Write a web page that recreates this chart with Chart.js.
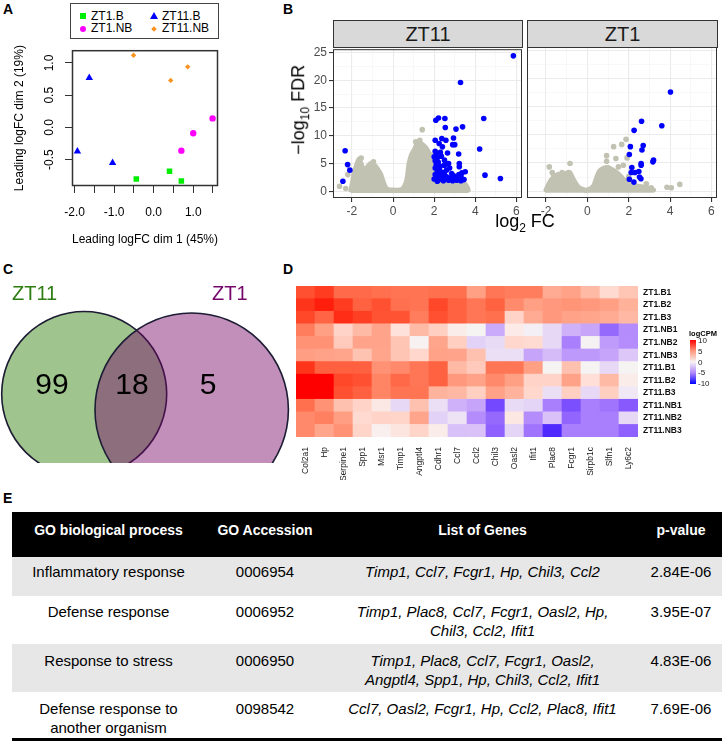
<!DOCTYPE html>
<html>
<head>
<meta charset="utf-8">
<script src="https://cdn.jsdelivr.net/npm/chart.js@4.4.1/dist/chart.umd.min.js"></script>
<style>
body{margin:0;width:726px;height:745px;position:relative;background:#fff;overflow:hidden;font-family:'Liberation Sans',Arial,sans-serif;color:#000}
canvas{position:absolute}
.abs{position:absolute;white-space:nowrap}
.plabel{position:absolute;font-weight:bold;font-size:14px}
.strip{position:absolute;top:20px;height:26px;background:#D9D9D9;border:1px solid #333;font-size:20px;line-height:26px;text-align:center;color:#1a1a1a}
#legA{position:absolute;left:70px;top:3px;width:147px;height:34px;border:1.5px solid #444;font-size:12px}
#legA .it{position:absolute;line-height:12px}
.mk{position:absolute}
#goTable{position:absolute;left:12px;top:512px;width:710px;border-collapse:collapse;table-layout:fixed;font-size:15px}
#goTable th{background:#000;color:#fff;font-weight:bold;font-size:14px;height:45px;vertical-align:top;padding:10px 0 0 0;box-sizing:border-box}
#goTable td{vertical-align:top;text-align:center;padding:6px 0 0 0;line-height:18.5px;white-space:pre-line;box-sizing:border-box}
#goTable tr.g td{background:#E7E7E7}
#goTable td.gn{font-style:italic}
#goTable tr:last-child td{border-bottom:3px solid #000}
</style>
</head>
<body>
<div class="plabel" style="left:3px;top:1px">A</div>
<div class="plabel" style="left:283px;top:1px">B</div>
<div class="plabel" style="left:3px;top:261px">C</div>
<div class="plabel" style="left:283px;top:261px">D</div>
<div class="plabel" style="left:3px;top:490px">E</div>

<!-- A -->
<div id="legA"></div>
<canvas id="mds" width="235" height="210" style="left:0;top:40px"></canvas>

<!-- B -->
<div class="strip" style="left:333px;width:188px">ZT11</div>
<div class="strip" style="left:527px;width:189px">ZT1</div>
<canvas id="volZT11" width="222" height="185" style="left:305px;top:40px"></canvas>
<canvas id="volZT1" width="200" height="185" style="left:522px;top:40px"></canvas>
<div class="abs" style="left:240px;top:98px;width:120px;text-align:center;font-size:18px;transform:rotate(-90deg)">−log<sub style="font-size:12px">10</sub> FDR</div>
<div class="abs" style="left:465px;top:211px;width:120px;text-align:center;font-size:18px">log<sub style="font-size:12px">2</sub> FC</div>

<!-- C -->
<canvas id="venn" width="292" height="173" style="left:0;top:290px"></canvas>
<div id="vennText"></div>

<!-- D -->
<canvas id="heat" width="398" height="204" style="left:290px;top:276px"></canvas>
<div id="heatLeg"></div>

<!-- E -->
<table id="goTable"></table>

<script>
// ---- panel A: MDS plot (leading logFC dims) ----
const mdsGroups = ['ZT1.B', 'ZT11.B', 'ZT1.NB', 'ZT11.NB'];
const mdsZT1B = [[-0.44, -0.80], [0.40, -0.68], [0.70, -0.83]];
const mdsZT11B = [[-1.63, 0.77], [-1.93, -0.37], [-1.04, -0.55]];
const mdsZT1NB = [[1.49, 0.14], [1.00, -0.09], [0.70, -0.36]];
const mdsZT11NB = [[-0.51, 1.12], [0.86, 0.94], [0.43, 0.73]];

// ---- panel B: volcano plots ----
// grey cloud outline (non significant genes)
const zt11Cloud = [[-2.05, 0.2], [-1.98, 1.4], [-1.9, 3.2], [-1.78, 4.6], [-1.66, 5.8], [-1.52, 4.6], [-1.38, 3.6], [-1.22, 4.5],
    [-1.05, 5.1], [-0.9, 4.7], [-0.75, 4.0], [-0.6, 3.0], [-0.45, 1.4], [-0.3, 0.4], [0.0, 0.2], [0.4, 0.3], [0.55, 0.8],
    [0.68, 2.2], [0.78, 5.0], [0.9, 6.6], [1.05, 7.6], [1.2, 8.7], [1.35, 8.6], [1.5, 8.2], [1.62, 7.7], [1.76, 6.8],
    [1.92, 6.3], [2.05, 2.8], [2.3, 1.6], [3.0, 1.5], [3.5, 1.3], [3.62, 0.6], [3.65, 0.2]];
const zt11Grey = [[-2.6, 0.9], [-2.3, 0.5], [-2.2, 3.0], [-1.55, 6.0], [1.42, 11.1], [1.3, 9.2], [1.1, 8.9], [-0.95, 5.3]];
const zt11Sig = [[5.85, 24.4], [3.28, 19.6], [4.41, 13.1], [3.38, 11.6], [3.06, 11.2], [2.54, 11.5], [2.52, 13.1],
    [2.21, 13.2], [2.08, 12.8], [2.05, 9.2], [2.37, 9.5], [2.57, 9.2], [2.94, 9.6], [2.9, 8.4], [3.0, 8.4], [2.24, 8.6],
    [2.4, 8.0], [4.21, 7.6], [-2.33, 7.3], [-2.21, 4.8], [-2.1, 3.8], [-2.44, 1.8], [4.47, 2.9], [5.22, 2.3],
    [3.19, 6.7], [2.65, 6.9], [3.22, 5.0], [3.22, 4.4], [3.51, 3.5], [3.3, 2.7],
    [2.05, 7.2], [2.1, 6.6], [2.15, 6.0], [2.05, 5.5], [2.2, 5.2], [2.1, 4.8], [2.3, 4.5], [2.05, 4.2], [2.25, 3.9],
    [2.15, 3.5], [2.4, 3.4], [2.05, 3.0], [2.3, 2.9], [2.5, 3.0], [2.1, 2.5], [2.35, 2.3], [2.6, 2.6], [2.2, 2.0],
    [2.45, 1.9], [2.7, 2.0], [2.9, 1.9], [3.1, 2.0], [3.3, 1.9], [3.45, 2.1], [2.0, 2.2], [2.15, 1.8], [2.6, 3.8],
    [2.5, 5.6], [2.35, 6.3], [2.75, 4.2], [2.85, 3.2], [3.05, 2.5], [3.2, 3.0], [2.7, 5.0], [2.0, 6.2], [2.3, 7.0],
    [2.5, 4.7], [3.35, 3.3], [2.8, 2.4], [2.95, 2.8]];
const zt1Cloud = [[-2.0, 0.2], [-1.9, 1.0], [-1.75, 2.0], [-1.55, 2.6], [-1.4, 3.0], [-1.2, 2.6], [-1.0, 3.2], [-0.85, 3.3],
    [-0.7, 2.2], [-0.5, 1.0], [-0.3, 0.4], [0.0, 0.2], [0.3, 0.9], [0.45, 2.4], [0.6, 3.6], [0.8, 4.1], [1.0, 4.2],
    [1.2, 3.8], [1.45, 3.2], [1.7, 2.3], [1.9, 1.6], [2.2, 1.0], [2.6, 0.8], [3.0, 0.5], [3.2, 0.2]];
const zt1Grey = [[-1.84, 4.3], [-1.7, 3.3], [-1.63, 2.8], [-0.84, 4.9], [-1.22, 3.3], [0.93, 6.3], [0.93, 5.3], [1.38, 5.8],
    [1.27, 7.9], [1.66, 8.3], [1.87, 9.2], [1.92, 5.9], [1.74, 4.6], [2.85, 1.3], [3.09, 0.6], [3.85, 0.7], [4.06, 0.6],
    [4.47, 1.2], [2.0, 2.6], [1.5, 4.3]];
const zt1Sig = [[4.02, 17.6], [2.62, 12.4], [3.6, 11.6], [2.26, 10.8], [2.08, 7.9], [2.7, 8.1], [2.64, 7.3], [2.03, 6.5],
    [3.2, 5.5], [3.17, 5.2], [2.6, 4.9], [2.6, 4.6], [2.15, 4.2], [2.12, 3.3], [2.3, 3.3], [2.49, 3.5], [2.52, 2.5],
    [2.59, 2.2], [2.25, 1.6], [2.03, 2.1]];

// ---- panel C: Venn counts ----
const vennSets = ['ZT11', 'ZT1'];
const vennCounts = [99, 18, 5];   // ZT11 only, both, ZT1 only

// ---- panel D: heatmap (logCPM) ----
const hmGenes = ['Col2a1', 'Hp', 'Serpine1', 'Spp1', 'Msr1', 'Timp1', 'Angptl4', 'Cdhr1', 'Ccl7', 'Ccl2', 'Chil3',
    'Oasl2', 'Ifit1', 'Plac8', 'Fcgr1', 'Sirpb1c', 'Slfn1', 'Ly6c2'];
const hmSamples = ['ZT1.B1', 'ZT1.B2', 'ZT1.B3', 'ZT1.NB1', 'ZT1.NB2', 'ZT1.NB3',
    'ZT11.B1', 'ZT11.B2', 'ZT11.B3', 'ZT11.NB1', 'ZT11.NB2', 'ZT11.NB3'];
const hmLogCPM = [
    [8.3, 9.0, 7.2, 7.2, 7.0, 6.8, 6.8, 7.0, 7.0, 4.6, 6.7, 6.4, 6.4, 4.0, 4.5, 3.2, 1.4, 2.5],
    [9.2, 9.7, 9.0, 7.6, 8.3, 7.0, 6.8, 8.6, 7.6, 6.7, 7.6, 5.7, 4.6, 5.0, 5.2, 5.0, 4.6, 3.7],
    [8.6, 7.5, 9.4, 8.9, 8.2, 8.2, 6.4, 8.3, 7.6, 6.7, 7.0, 1.8, 4.0, 5.0, 4.5, 4.3, 4.0, 3.3],
    [6.4, 4.6, 1.8, 3.2, 4.4, 1.0, 3.2, 2.0, 0.4, 0.0, -3.3, 0.5, -0.2, -1.2, -3.0, -3.5, -6.3, -4.7],
    [5.3, 5.3, 2.3, 4.4, 4.4, 2.6, 0.1, 4.3, 2.0, -1.5, -1.1, 1.6, 1.4, -1.2, -5.3, -0.1, -4.0, -4.7],
    [4.7, 4.5, 4.3, 2.7, 4.3, 2.6, 1.6, 4.5, 4.4, 2.8, -0.9, -0.9, -3.6, -2.5, -4.1, -4.1, -3.6, -2.0],
    [9.2, 7.7, 7.7, 7.7, 5.3, 5.8, 6.7, 7.6, 3.2, 2.3, 6.7, 6.7, 4.6, 0.0, 2.8, 0.0, -1.2, 0.0],
    [10, 10, 8.6, 8.3, 6.0, 7.3, 6.7, 7.6, 5.0, 4.5, 5.8, 4.6, 1.8, 1.8, 4.5, 1.1, 3.2, 0.4],
    [10, 10, 8.3, 7.7, 6.0, 6.8, 6.8, 3.6, 3.3, 2.0, 4.5, 3.6, 1.6, -0.9, 2.0, -1.2, 2.0, -0.5],
    [7.0, 5.3, 2.8, 1.8, 0.6, -1.2, 2.8, -0.9, -3.0, -3.6, -7.8, -1.1, -1.4, -5.3, -7.5, -5.3, -5.8, -7.0],
    [5.8, 6.2, 4.7, 1.4, 1.8, 1.7, 4.3, -1.5, -0.7, -4.7, -6.3, 0.7, -4.7, -2.2, -6.5, -5.3, -5.3, -1.2],
    [5.8, 4.3, 5.3, 1.7, 0.2, 0.8, 1.7, 0.4, -2.3, -2.2, -6.7, -1.4, -5.8, -9.0, -5.3, -5.3, -5.3, -6.7]
];
const hmLegendTicks = [10, 5, 0, -5, -10];

// ---- panel E: GO enrichment table ----
const goHeader = ['GO biological process', 'GO Accession', 'List of Genes', 'p-value'];
const goProcess = ['Inflammatory response', 'Defense response', 'Response to stress', 'Defense response to\nanother organism'];
const goAccession = ['0006954', '0006952', '0006950', '0098542'];
const goGenes = ['Timp1, Ccl7, Fcgr1, Hp, Chil3, Ccl2',
    'Timp1, Plac8, Ccl7, Fcgr1, Oasl2, Hp,\nChil3, Ccl2, Ifit1',
    'Timp1, Plac8, Ccl7, Fcgr1, Oasl2,\nAngptl4, Spp1, Hp, Chil3, Ccl2, Ifit1',
    'Ccl7, Oasl2, Fcgr1, Hp, Ccl2, Plac8, Ifit1'];
const goPvalue = ['2.84E-06', '3.95E-07', '4.83E-06', '7.69E-06'];

Chart.defaults.font.family = "'Liberation Sans', Arial, sans-serif";
Chart.defaults.animation = false;
Chart.defaults.plugins.legend.display = false;
Chart.defaults.plugins.tooltip.enabled = false;

const FONT = "'Liberation Sans', Arial, sans-serif";
const GREY = '#C2C2B2';
const toXY = arr => arr.map(([x, y]) => ({ x, y }));

// frame round the plotting area
const framePlugin = {
    id: 'frame',
    afterDatasetsDraw(chart, args, opts) {
        const a = chart.chartArea;
        const ctx = chart.ctx;
        ctx.save();
        ctx.strokeStyle = opts.color || '#333';
        ctx.lineWidth = opts.width || 1;
        ctx.strokeRect(a.left + 0.5, a.top + 0.5, a.right - a.left - 1, a.bottom - a.top - 1);
        ctx.restore();
    }
};

// R style y labels, written along the axis
const rotYTicks = {
    id: 'rotYTicks',
    afterDraw(chart, args, opts) {
        const s = chart.scales.y;
        const ctx = chart.ctx;
        ctx.save();
        ctx.font = '12px ' + FONT;
        ctx.fillStyle = '#000';
        ctx.textAlign = 'center';
        ctx.textBaseline = 'middle';
        s.ticks.forEach(t => {
            ctx.save();
            ctx.translate(opts.x, s.getPixelForValue(t.value));
            ctx.rotate(-Math.PI / 2);
            ctx.fillText(t.value.toFixed(1), 0, 0);
            ctx.restore();
        });
        ctx.restore();
    }
};

// ---------- A ----------
const mdsStyle = [
    { pts: mdsZT1B, color: '#00EE00', shape: 'rect', r: 3.9 },
    { pts: mdsZT11B, color: '#0000FF', shape: 'triangle', r: 4.3 },
    { pts: mdsZT1NB, color: '#FF00FF', shape: 'circle', r: 3.2 },
    { pts: mdsZT11NB, color: '#F7931E', shape: 'rectRot', r: 2.7 }
];

new Chart(document.getElementById('mds'), {
    type: 'scatter',
    data: {
        datasets: mdsStyle.map((g, i) => ({
            label: mdsGroups[i], data: toXY(g.pts), pointStyle: g.shape,
            pointRadius: g.r, backgroundColor: g.color, borderColor: g.color, borderWidth: 0
        }))
    },
    options: {
        responsive: false,
        layout: { autoPadding: false, padding: { top: 6, right: 17, left: 0, bottom: 0 } },
        plugins: { frame: { color: '#333', width: 1.5 }, rotYTicks: { x: 50 } },
        scales: {
            x: {
                min: -2.067, max: 1.627,
                ticks: {
                    stepSize: 0.5, includeBounds: false, padding: 12, color: '#000', font: { size: 12 },
                    maxRotation: 0, minRotation: 0, autoSkip: false,
                    callback: v => (Math.abs(v - Math.round(v)) < 1e-6 ? v.toFixed(1) : '')
                },
                grid: { drawOnChartArea: false, tickLength: 7, tickColor: '#333', tickWidth: 1 },
                border: { display: false },
                title: { display: true, text: 'Leading logFC dim 1 (45%)', color: '#000', font: { size: 12 }, padding: { top: 0, bottom: 3 } },
                afterFit: s => { s.height = 64; }
            },
            y: {
                min: -0.908, max: 1.198,
                ticks: { stepSize: 0.5, includeBounds: false, callback: () => '' },
                grid: { drawOnChartArea: false, tickLength: 7, tickColor: '#333', tickWidth: 1 },
                border: { display: false },
                title: { display: true, text: 'Leading logFC dim 2 (19%)', color: '#000', font: { size: 12 }, padding: { top: 12, bottom: 0 } },
                afterFit: s => { s.width = 72; }
            }
        }
    },
    plugins: [framePlugin, rotYTicks]
});

// html legend box for panel A
(function () {
    const leg = document.getElementById('legA');
    const pos = [[12, 12], [83, 12], [12, 24.5], [83, 24.5]];
    mdsStyle.forEach((g, i) => {
        const [x, y] = pos[i];
        const m = document.createElement('div');
        m.className = 'mk';
        if (g.shape === 'rect') {
            m.style.cssText = `left:${x - 3}px;top:${y - 3}px;width:6px;height:6px;background:${g.color}`;
        } else if (g.shape === 'triangle') {
            m.style.cssText = `left:${x - 4}px;top:${y - 4}px;width:0;height:0;border-left:4px solid transparent;border-right:4px solid transparent;border-bottom:7px solid ${g.color}`;
        } else if (g.shape === 'circle') {
            m.style.cssText = `left:${x - 3}px;top:${y - 3}px;width:6px;height:6px;border-radius:50%;background:${g.color}`;
        } else {
            m.style.cssText = `left:${x - 2}px;top:${y - 2}px;width:4px;height:4px;transform:rotate(45deg);background:${g.color}`;
        }
        leg.appendChild(m);
        const t = document.createElement('div');
        t.className = 'it';
        t.style.left = (x + 8) + 'px';
        t.style.top = (y - 6.5) + 'px';
        t.textContent = mdsGroups[i];
        leg.appendChild(t);
    });
})();

// ---------- B ----------
function volcano(id, cloud, grey, sig, withY, pad) {
    const major = (v, step) => Math.abs(v / step - Math.round(v / step)) < 1e-6;
    return new Chart(document.getElementById(id), {
        type: 'scatter',
        data: {
            datasets: [
                {
                    type: 'line', data: toXY(cloud), borderColor: GREY, backgroundColor: GREY, borderWidth: 5,
                    pointRadius: 0, tension: 0.25, fill: { value: -0.3 }, order: 3,
                    borderJoinStyle: 'round', borderCapStyle: 'round'
                },
                { data: toXY(grey), backgroundColor: GREY, pointRadius: 2.8, borderWidth: 0, order: 2 },
                { data: toXY(sig), backgroundColor: '#0000FF', pointRadius: 2.8, borderWidth: 0, order: 1 }
            ]
        },
        options: {
            responsive: false,
            layout: { autoPadding: false, padding: pad },
            plugins: { frame: { color: '#333', width: 1 } },
            scales: {
                x: {
                    min: -2.92, max: 6.27,
                    ticks: {
                        stepSize: 1, includeBounds: false, padding: 2, color: '#4D4D4D', font: { size: 12 },
                        maxRotation: 0, autoSkip: false,
                        callback: v => (major(v, 2) ? String(v) : '')
                    },
                    grid: {
                        color: c => (major(c.tick.value, 2) ? '#EBEBEB' : '#F3F3F3'),
                        lineWidth: c => (major(c.tick.value, 2) ? 1.1 : 0.6),
                        tickColor: c => (major(c.tick.value, 2) ? '#333' : 'rgba(0,0,0,0)'),
                        tickLength: 4
                    },
                    border: { display: false },
                    afterFit: s => { s.height = 27; }
                },
                y: {
                    min: -1.22, max: 25.6,
                    ticks: {
                        display: withY, stepSize: 2.5, includeBounds: false, padding: 2, color: '#4D4D4D',
                        font: { size: 12 }, autoSkip: false, callback: v => (major(v, 5) ? String(v) : '')
                    },
                    grid: {
                        color: c => (major(c.tick.value, 5) ? '#EBEBEB' : '#F3F3F3'),
                        lineWidth: c => (major(c.tick.value, 5) ? 1.1 : 0.6),
                        tickColor: c => (major(c.tick.value, 5) ? '#333' : 'rgba(0,0,0,0)'),
                        drawTicks: withY, tickLength: 4
                    },
                    border: { display: false },
                    afterFit: s => { s.width = withY ? 28 : 0; }
                }
            }
        },
        plugins: [framePlugin]
    });
}
volcano('volZT11', zt11Cloud, zt11Grey, zt11Sig, true, { top: 7, right: 5, left: 0, bottom: 0 });
volcano('volZT1', zt1Cloud, zt1Grey, zt1Sig, false, { top: 7, right: 5, left: 5, bottom: 0 });

// ---------- C ----------
// circle layout of the (non proportional) diagram, in page pixels
const vennCircleX = [84.2, 191.7];
const vennCircleY = [394, 409.7];
const vennCircleR = [82.5, 96.7];
const vennFill = ['rgba(44,124,4,0.45)', 'rgba(117,6,102,0.45)'];
new Chart(document.getElementById('venn'), {
    type: 'bubble',
    data: {
        // ZT1 circle is laid over the ZT11 one (higher order is drawn first)
        datasets: vennSets.map((s, i) => ({
            label: s, order: 2 - i,
            data: [{ x: vennCircleX[i], y: vennCircleY[i], r: vennCircleR[i] }],
            backgroundColor: vennFill[i], borderColor: '#1c1c34', borderWidth: 1.6, clip: false
        }))
    },
    options: {
        responsive: false,
        layout: { autoPadding: false, padding: 0 },
        scales: {
            x: { display: false, min: 0, max: 292 },
            y: { display: false, min: 290, max: 463, reverse: true }
        }
    }
});
(function () {
    const box = document.getElementById('vennText');
    const add = (txt, css) => {
        const d = document.createElement('div');
        d.className = 'abs';
        d.style.cssText += css;
        d.textContent = txt;
        box.appendChild(d);
    };
    add(vennSets[0], 'left:12px;top:282px;font-size:20px;color:#2E7D12');
    add(vennSets[1], 'left:212px;top:282px;font-size:20px;color:#75066A');
    const cx = [52, 132, 208];
    vennCounts.forEach((n, i) => add(String(n), `left:${cx[i] - 30}px;top:367px;width:60px;text-align:center;font-size:30px;color:#000`));
})();

// ---------- D ----------
function toLin(c) { c /= 255; return c <= 0.04045 ? c / 12.92 : Math.pow((c + 0.055) / 1.055, 2.4); }
function fromLin(c) {
    const v = c <= 0.0031308 ? 12.92 * c : 1.055 * Math.pow(c, 1 / 2.4) - 0.055;
    return Math.round(Math.max(0, Math.min(1, v)) * 255);
}
function rgb2lab([r, g, b]) {
    const R = toLin(r), G = toLin(g), B = toLin(b);
    const X = (0.4124 * R + 0.3576 * G + 0.1805 * B) / 0.95047;
    const Y = 0.2126 * R + 0.7152 * G + 0.0722 * B;
    const Z = (0.0193 * R + 0.1192 * G + 0.9505 * B) / 1.08883;
    const f = t => (t > 0.008856 ? Math.cbrt(t) : 7.787 * t + 16 / 116);
    return [116 * f(Y) - 16, 500 * (f(X) - f(Y)), 200 * (f(Y) - f(Z))];
}
function lab2rgb([L, a, b]) {
    const fy = (L + 16) / 116, fx = fy + a / 500, fz = fy - b / 200;
    const fi = t => (t > 0.206893 ? t * t * t : (t - 16 / 116) / 7.787);
    const X = fi(fx) * 0.95047, Y = fi(fy), Z = fi(fz) * 1.08883;
    const R = 3.2406 * X - 1.5372 * Y - 0.4986 * Z;
    const G = -0.9689 * X + 1.8758 * Y + 0.0415 * Z;
    const B = 0.0557 * X - 0.2040 * Y + 1.0570 * Z;
    return `rgb(${fromLin(R)},${fromLin(G)},${fromLin(B)})`;
}
const LAB_HI = rgb2lab([255, 0, 0]), LAB_MID = rgb2lab([246, 243, 243]), LAB_LO = rgb2lab([0, 0, 255]);
function logCpmColor(v) {
    const t = Math.min(1, Math.abs(v) / 10);
    const end = v >= 0 ? LAB_HI : LAB_LO;
    return lab2rgb(LAB_MID.map((m, k) => m + (end[k] - m) * t));
}

const nRows = hmSamples.length;
new Chart(document.getElementById('heat'), {
    type: 'bar',
    data: {
        labels: hmGenes,
        // stacked from the bottom row upward
        datasets: hmSamples.map((s, i) => ({
            label: s, data: hmGenes.map(() => 1),
            backgroundColor: hmLogCPM[i].map(logCpmColor),
            borderWidth: 0, barPercentage: 1, categoryPercentage: 1
        })).reverse()
    },
    options: {
        responsive: false,
        layout: { autoPadding: false, padding: { left: 6, top: 5, right: 0, bottom: 0 } },
        scales: {
            x: {
                stacked: true,
                ticks: { autoSkip: false, minRotation: 90, maxRotation: 90, padding: 2, color: '#222', font: { size: 8.5 } },
                grid: { display: false }, border: { display: false },
                afterFit: s => { s.height = 43; }
            },
            y: {
                stacked: true, position: 'right', min: 0, max: nRows,
                afterBuildTicks: s => { s.ticks = hmSamples.map((_, i) => ({ value: i + 0.5 })); },
                ticks: {
                    autoSkip: false, padding: 5, color: '#111', font: { size: 8.5, weight: 'bold' },
                    callback: v => hmSamples[nRows - 1 - Math.floor(v)]
                },
                grid: { display: false, drawTicks: false }, border: { display: false },
                afterFit: s => { s.width = 50; }
            }
        }
    }
});

// colour key
(function () {
    const leg = document.getElementById('heatLeg');
    const stops = hmLegendTicks.map((v, i) => `${logCpmColor(v)} ${i * 25}%`).join(',');
    leg.innerHTML = `<div class="abs" style="left:689px;top:329px;font-size:7.5px;font-weight:bold">logCPM</div>` +
        `<div class="abs" style="left:690px;top:340px;width:6px;height:44px;background:linear-gradient(to bottom,${stops})"></div>` +
        hmLegendTicks.map((v, i) => `<div class="abs" style="left:698px;top:${336 + i * 10.75}px;font-size:8px;color:#222">${v}</div>`).join('');
})();

// ---------- E ----------
(function () {
    const tb = document.getElementById('goTable');
    const widths = [193, 120, 315, 82];
    let html = '<colgroup>' + widths.map(w => `<col style="width:${w}px">`).join('') + '</colgroup>';
    html += '<tr>' + goHeader.map(h => `<th>${h}</th>`).join('') + '</tr>';
    const heights = [39, 48, 48, 47];
    const pads = [6, 7, 8, 8];
    goProcess.forEach((p, i) => {
        html += `<tr class="${i % 2 === 0 ? 'g' : ''}" style="height:${heights[i]}px">` +
            `<td style="padding-top:${pads[i]}px">${p}</td><td style="padding-top:${pads[i]}px">${goAccession[i]}</td>` +
            `<td class="gn" style="padding-top:${pads[i]}px">${goGenes[i]}</td><td style="padding-top:${pads[i]}px">${goPvalue[i]}</td></tr>`;
    });
    tb.innerHTML = html;
})();
</script>
</body>
</html>
